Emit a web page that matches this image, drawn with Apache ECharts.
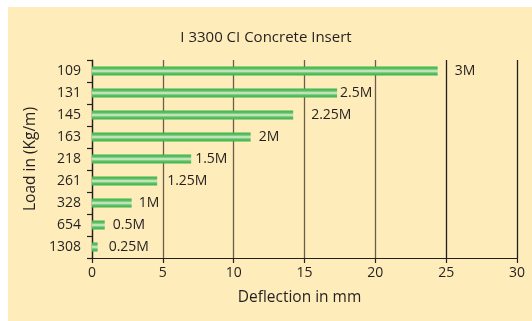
<!DOCTYPE html>
<html>
<head>
<meta charset="utf-8">
<script src="https://cdn.jsdelivr.net/npm/echarts@6/dist/echarts.min.js"></script>
<style>
  html, body { margin: 0; padding: 0; background: #ffffff; }
  #panel { position: absolute; left: 8px; top: 7px; right: 0; bottom: 0; background: #feedba; }
  #chart { position: absolute; left: 0; top: 0; width: 532px; height: 321px; }
</style>
</head>
<body>
<div id="panel"></div>
<div id="chart"></div>
<script>
// Load categories (Kg/m), listed top to bottom
const loads = ['109', '131', '145', '163', '218', '261', '328', '654', '1308'];
// Deflection for each load, mm
const deflection = [24.4, 17.3, 14.2, 11.2, 7.0, 4.6, 2.8, 0.9, 0.4];
// Span printed beside each bar
const spans = ['3M', '2.5M', '2.25M', '2M', '1.5M', '1.25M', '1M', '0.5M', '0.25M'];
// Horizontal gap between bar end and its span label (px)
const labelGaps = [17, 3, 18, 8, 4, 10, 7, 8, 11];

const FONT = 'Open Sans';
const INK = '#231f20';
const GRID_BROWN = '#6a5f4e';

const barFill = new echarts.graphic.LinearGradient(0, 0, 0, 1, [
  { offset: 0, color: '#3cb44a' },
  { offset: 0.25, color: '#5dbf62' },
  { offset: 0.42, color: '#a9dba6' },
  { offset: 0.5, color: '#eef8e8' },
  { offset: 0.58, color: '#a9dba6' },
  { offset: 0.75, color: '#5dbf62' },
  { offset: 1, color: '#3cb44a' }
]);

const chart = echarts.init(document.getElementById('chart'), null, { renderer: 'canvas' });
chart.setOption({
  backgroundColor: 'transparent',
  animation: false,
  textStyle: { fontFamily: FONT, color: INK },
  title: {
    text: 'I 3300 CI Concrete Insert',
    left: 'center',
    top: 25,
    textStyle: { fontFamily: FONT, fontSize: 15, fontWeight: 'normal', color: INK }
  },
  grid: { left: 92, right: 15, top: 60, bottom: 63 },
  xAxis: {
    type: 'value',
    min: 0,
    max: 30,
    interval: 5,
    name: 'Deflection in mm',
    nameLocation: 'middle',
    nameGap: 32,
    nameTextStyle: { fontFamily: FONT, fontSize: 15.5, color: INK, padding: [0, 10, 0, 0] },
    axisLine: { show: true, lineStyle: { color: INK, width: 1.2 } },
    axisTick: { show: true, length: 5, lineStyle: { color: INK, width: 1.2 } },
    axisLabel: { fontFamily: FONT, fontSize: 14, color: INK, margin: 8 },
    splitLine: {
      show: true,
      lineStyle: {
        color: [INK, GRID_BROWN, GRID_BROWN, GRID_BROWN, GRID_BROWN, INK, INK],
        width: 1.3
      }
    }
  },
  yAxis: {
    type: 'category',
    data: loads,
    inverse: true,
    name: 'Load in (Kg/m)',
    nameLocation: 'middle',
    nameGap: 51,
    nameTextStyle: { fontFamily: FONT, fontSize: 15.5, color: INK },
    axisLine: { show: true, lineStyle: { color: INK, width: 1.2 } },
    axisTick: { show: true, length: 5, lineStyle: { color: INK, width: 1.2 } },
    axisLabel: { fontFamily: FONT, fontSize: 14, color: INK, margin: 11 },
    splitLine: { show: false }
  },
  series: [{
    type: 'bar',
    barWidth: 9,
    data: deflection.map((v, i) => ({
      value: v,
      label: { distance: labelGaps[i] }
    })),
    itemStyle: { color: barFill },
    label: {
      show: true,
      position: 'right',
      fontFamily: FONT,
      fontSize: 14,
      color: INK,
      formatter: p => spans[p.dataIndex]
    }
  }]
});
</script>
</body>
</html>
